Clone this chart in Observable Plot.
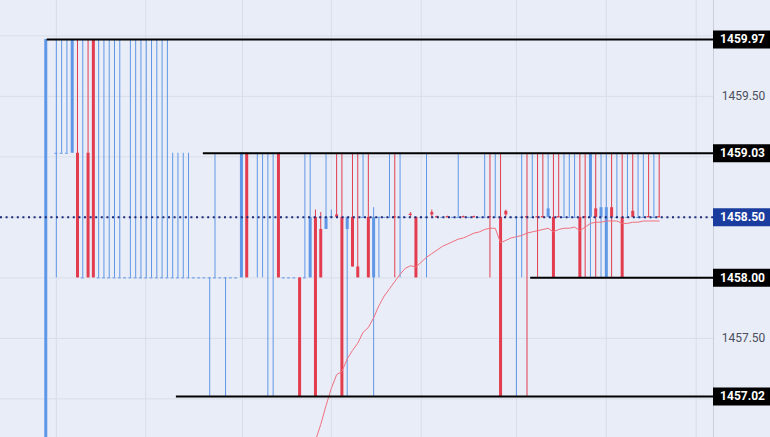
<!DOCTYPE html>
<html>
<head>
<meta charset="utf-8">
<script src="https://cdn.jsdelivr.net/npm/d3@7"></script>
<script src="https://cdn.jsdelivr.net/npm/@observablehq/plot@0.6"></script>
<style>
  html, body { margin: 0; padding: 0; background: #E9EDF7; }
  #chart svg { display: block; }
</style>
</head>
<body>
<div id="chart"></div>
<script>
// price levels used by the bars
const A = 1459.97, B = 1459.03, M = 1458.50, C = 1458.00, D = 1457.02;

const opens = [
  1455.5, A, B, B, B, B, B, C, B, A,
  C, C, C, C, C, C, C, C, C, C,
  C, C, C, C, C, C, C, C, C, C,
  C, C, C, C, C, C, C, C, B, B,
  B, B, B, B, B, C, C, C, C, C,
  C, M, 1458.40, 1458.40, M, 1458.52, M, 1458.40, M, 1458.09,
  M, M, C, M, M, M, 1458.51, M, M, 1458.53,
  M, M, M, 1458.54, 1458.51, M, 1458.51, M, M, 1458.51,
  M, 1458.51, M, M, 1458.51, M, M, 1458.55, M, M,
  M, 1458.51, M, 1458.51, 1458.51, M, M, 1458.51, M, M,
  M, M, 1458.51, M, 1458.57, M, C, 1458.58, M, M,
  M, 1458.55, M, M, 1458.51, M, 1458.51
];
const highs = [
  A, A, A, A, A, A, A, A, A, A,
  A, A, A, A, A, C, A, A, A, A,
  A, A, A, A, B, B, B, B, C, C,
  C, C, B, C, C, C, C, B, B, B,
  B, B, B, B, B, C, C, C, C, B,
  B, 1458.56, 1458.54, B, 1458.56, B, B, M, B, B,
  B, B, 1458.58, M, M, B, B, B, M, 1458.54,
  M, M, B, 1458.56, 1458.51, M, 1458.51, M, B, 1458.51,
  M, 1458.51, M, B, B, B, B, 1458.56, M, M,
  B, B, B, B, B, B, B, B, B, B,
  B, B, B, B, B, B, B, B, B, B,
  B, B, B, B, B, B, B
];
const lows = [
  1455.5, A, C, B, B, B, C, C, C, C,
  C, C, C, C, C, C, C, C, C, C,
  C, C, C, C, C, C, C, C, C, C,
  C, D, C, C, D, C, C, C, C, B,
  C, C, D, D, C, C, C, C, D, C,
  C, D, C, 1458.40, M, M, D, D, 1458.09, C,
  M, C, D, C, M, M, C, C, M, M,
  C, M, C, M, M, M, M, M, M, M,
  M, M, M, M, C, M, D, M, M, D,
  C, D, M, C, M, M, C, M, M, M,
  M, C, C, C, C, C, C, C, M, C,
  M, M, M, M, M, M, M
];
const closes = [
  A, A, B, B, B, A, C, C, C, C,
  C, C, C, C, C, C, C, C, C, C,
  C, C, C, C, C, C, C, C, C, C,
  C, C, C, C, C, C, C, B, C, B,
  B, B, B, B, C, C, C, C, D, C,
  M, D, C, M, 1458.51, M, D, M, 1458.09, C,
  M, C, M, M, M, M, M, M, M, 1458.52,
  C, M, M, 1458.52, M, M, M, M, M, M,
  M, M, M, M, M, M, D, 1458.52, M, M,
  M, M, M, M, M, 1458.57, C, M, M, M,
  M, C, M, B, M, 1458.58, 1458.58, M, M, C,
  M, M, M, M, M, M, M
];

// moving average (starts at bar 50)
const maStart = 50;
const maValues = [
  1456.45, 1456.656, 1456.788, 1456.945, 1457.086, 1457.20, 1457.226, 1457.33, 1457.40, 1457.46,
  1457.55, 1457.59, 1457.67, 1457.77, 1457.85, 1457.91, 1457.97, 1458.03, 1458.08, 1458.10,
  1458.09, 1458.13, 1458.17, 1458.20, 1458.23, 1458.26, 1458.28, 1458.30, 1458.32, 1458.33,
  1458.35, 1458.37, 1458.38, 1458.40, 1458.41, 1458.41, 1458.29, 1458.31, 1458.33, 1458.34,
  1458.35, 1458.37, 1458.38, 1458.39, 1458.40, 1458.41, 1458.38, 1458.40, 1458.41, 1458.41,
  1458.42, 1458.39, 1458.42, 1458.45, 1458.46, 1458.46, 1458.47, 1458.47, 1458.47, 1458.45,
  1458.45, 1458.46, 1458.46, 1458.47, 1458.47, 1458.47, 1458.47
];

// horizontal levels and the bar where each starts
const levelValues = [1459.97, 1459.03, 1458.00, 1457.02];
const levelStarts = [0.27, 29.8, 91.7, 24.7];
const lastPrice = 1458.50;

// axis ticks
const boxLabels = [1459.97, 1459.03, 1458.50, 1458.00, 1457.02];
const plainLabels = [1459.50, 1457.50];
const gridY = [1460.0, 1459.5, 1459.0, 1458.5, 1458.0, 1457.5, 1457.0];
const gridX = [2, 18.9, 37.2, 54, 71, 89, 106, 123];

const BLUE = "#5F97E6", RED = "#E23C4E", BG = "#E9EDF7", GRID = "#D9DDE9";
const xDomain = [-8.559, 126.27];

const candles = d3.range(opens.length).map(i => ({i, o: opens[i], h: highs[i], l: lows[i], c: closes[i]}));
const isUp = d => d.c >= d.o;
const isBody = d => Math.abs(d.c - d.o) >= 0.015;
const ma = maValues.map((v, k) => ({i: maStart + k, v}));
const levels = levelValues.map((v, k) => ({v, start: levelStarts[k]}));

const chart = Plot.plot({
  width: 770,
  height: 437,
  marginLeft: 0,
  marginRight: 57,
  marginTop: 0,
  marginBottom: 0,
  style: {background: BG, fontFamily: "Roboto, 'Liberation Sans', sans-serif"},
  x: {domain: xDomain, axis: null},
  y: {domain: [1456.6807, 1460.2923], axis: null},
  marks: [
    Plot.ruleY(gridY, {stroke: GRID, strokeWidth: 1}),
    Plot.ruleX(gridX, {stroke: GRID, strokeWidth: 1}),
    Plot.frame({anchor: "right", stroke: "#CACED9"}),
    // wicks
    Plot.ruleX(candles, {filter: isUp, x: "i", y1: "l", y2: "h", stroke: BLUE, strokeWidth: 1, clip: true}),
    Plot.ruleX(candles, {filter: d => !isUp(d), x: "i", y1: "l", y2: "h", stroke: RED, strokeWidth: 1, clip: true}),
    // bodies
    Plot.ruleX(candles, {filter: d => isBody(d) && isUp(d), x: "i", y1: "o", y2: "c", stroke: BLUE, strokeWidth: 3, clip: true}),
    Plot.ruleX(candles, {filter: d => isBody(d) && !isUp(d), x: "i", y1: "o", y2: "c", stroke: RED, strokeWidth: 3, clip: true}),
    // doji bodies
    Plot.ruleY(candles, {filter: d => !isBody(d) && isUp(d), y: d => (d.o + d.c) / 2, x1: d => d.i - 0.28, x2: d => d.i + 0.28, stroke: BLUE, strokeWidth: 1}),
    Plot.ruleY(candles, {filter: d => !isBody(d) && !isUp(d), y: d => (d.o + d.c) / 2, x1: d => d.i - 0.28, x2: d => d.i + 0.28, stroke: RED, strokeWidth: 1.3}),
    // moving average
    Plot.line(ma, {x: "i", y: "v", stroke: "#F0707F", strokeWidth: 1, clip: true}),
    // levels
    Plot.ruleY(levels, {y: "v", x1: "start", x2: () => xDomain[1], stroke: "#000", strokeWidth: 2}),
    Plot.ruleY([lastPrice], {y: d => d, stroke: "#1B2A7A", strokeWidth: 2, strokeDasharray: "2,3.6"}),
    // price labels on the right
    Plot.ruleY(boxLabels, {y: d => d, stroke: d => d === lastPrice ? "#1A3C9E" : "#000", strokeWidth: 18, insetLeft: 713, insetRight: -57}),
    Plot.text(boxLabels, {y: d => d, text: d => d.toFixed(2), frameAnchor: "right", textAnchor: "middle", dx: 29, fill: "white", fontWeight: "bold", fontSize: 12}),
    Plot.text(plainLabels, {y: d => d, text: d => d.toFixed(2), frameAnchor: "right", textAnchor: "middle", dx: 30, fill: "#4C505C", fontSize: 12})
  ]
});
document.getElementById("chart").appendChild(chart);
</script>
</body>
</html>
